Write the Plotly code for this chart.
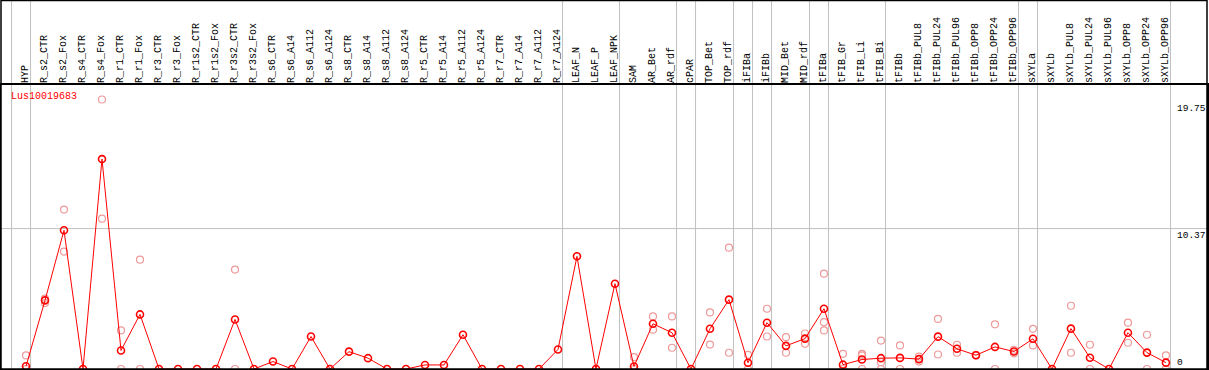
import plotly.graph_objects as go

categories = ["HYP", "R_s2_CTR", "R_s2_Fox", "R_s4_CTR", "R_s4_Fox", "R_r1_CTR", "R_r1_Fox",
              "R_r3_CTR", "R_r3_Fox", "R_r1s2_CTR", "R_r1s2_Fox", "R_r3s2_CTR", "R_r3s2_Fox",
              "R_s6_CTR", "R_s6_A14", "R_s6_A112", "R_s6_A124", "R_s8_CTR", "R_s8_A14",
              "R_s8_A112", "R_s8_A124", "R_r5_CTR", "R_r5_A14", "R_r5_A112", "R_r5_A124",
              "R_r7_CTR", "R_r7_A14", "R_r7_A112", "R_r7_A124", "LEAF_N", "LEAF_P", "LEAF_NPK",
              "SAM", "AR_Bet", "AR_rdf", "cPAR", "TOP_Bet", "TOP_rdf", "iFIBa", "iFIBb",
              "MID_Bet", "MID_rdf", "tFIBa", "tFIB_Gr", "tFIB_Li", "tFIB_Bi", "tFIBb",
              "tFIBb_PUL8", "tFIBb_PUL24", "tFIBb_PUL96", "tFIBb_OPP8", "tFIBb_OPP24",
              "tFIBb_OPP96", "sXYLa", "sXYLb", "sXYLb_PUL8", "sXYLb_PUL24", "sXYLb_PUL96",
              "sXYLb_OPP8", "sXYLb_OPP24", "sXYLb_OPP96"]

mean_values = [0.2, 5.07, 10.24, 0, 15.5, 1.37, 4.03,
               0, 0, 0, 0, 3.66, 0,
               0.55, 0, 2.4, 0, 1.28, 0.8,
               0, 0, 0.3, 0.3, 2.53, 0,
               0, 0, 0, 1.44, 8.32, 0, 6.3,
               0.19, 3.34, 2.68, 0, 2.97, 5.12, 0.46, 3.42,
               1.71, 2.24, 4.45, 0.32, 0.7, 0.8, 0.82,
               0.73, 2.39, 1.49, 1.02, 1.63,
               1.29, 2.23, 0, 2.98, 0.83, 0,
               2.68, 1.21, 0.47]

# individual replicates (category, value)
rep_category = ["HYP", "HYP", "R_s2_CTR", "R_s2_CTR", "R_s2_Fox", "R_s2_Fox", "R_s4_Fox", "R_s4_Fox",
                "R_r1_CTR", "R_r1_CTR", "R_r1_Fox", "R_r1_Fox", "R_r3s2_CTR", "R_r3s2_CTR",
                "SAM", "SAM", "AR_Bet", "AR_Bet", "AR_rdf", "AR_rdf", "TOP_Bet", "TOP_Bet",
                "TOP_rdf", "TOP_rdf", "iFIBa", "iFIBa", "iFIBb", "iFIBb", "MID_Bet", "MID_Bet",
                "MID_rdf", "MID_rdf", "tFIBa", "tFIBa", "tFIBa", "tFIB_Gr", "tFIB_Gr",
                "tFIB_Li", "tFIB_Li", "tFIB_Li", "tFIB_Bi", "tFIB_Bi", "tFIB_Bi",
                "tFIBb", "tFIBb", "tFIBb_PUL8", "tFIBb_PUL8", "tFIBb_PUL24", "tFIBb_PUL24",
                "tFIBb_PUL96", "tFIBb_PUL96", "tFIBb_OPP8", "tFIBb_OPP8", "tFIBb_OPP24", "tFIBb_OPP24",
                "tFIBb_OPP96", "tFIBb_OPP96", "sXYLa", "sXYLa", "sXYLb_PUL8", "sXYLb_PUL8",
                "sXYLb_PUL24", "sXYLb_PUL24", "sXYLb_OPP8", "sXYLb_OPP8", "sXYLb_OPP24", "sXYLb_OPP24",
                "sXYLb_OPP96", "sXYLb_OPP96"]
rep_values = [1.0, 0, 5.19, 4.87, 11.77, 8.67, 19.9, 11.1,
              2.85, 0, 8.07, 0, 7.34, 0,
              0.87, 0, 3.88, 2.9, 3.88, 1.57, 4.18, 1.8,
              8.96, 1.2, 1.05, 0, 4.45, 2.4, 2.35, 1.2,
              2.62, 1.86, 7.04, 3.46, 2.85, 1.12, 0,
              1.12, 1.0, 0, 2.1, 0.5, 0,
              1.74, 0, 0.92, 0.55, 3.7, 1.07,
              1.79, 1.2, 1.05, 1.0, 3.3, 0,
              1.42, 1.16, 2.97, 1.74, 4.67, 1.2,
              1.79, 0, 3.42, 1.94, 2.53, 0,
              1.0, 0]

# groups end after these categories (separator lines)
group_ends = ["HYP", "R_r7_A124", "LEAF_NPK", "AR_rdf", "cPAR", "TOP_rdf", "iFIBa", "iFIBb",
              "MID_rdf", "tFIBa", "tFIB_Bi", "tFIBb_OPP96", "sXYLa", "sXYLb_OPP96"]

y_tick_vals = [0, 10.37, 19.75]
y_tick_text = ["0", "10.37", "19.75"]
gene_name = "Lus10019683"

RED = "#ff0000"
PALE = "#ef9a9a"
GRID = "#c0c0c0"
FONT = "Liberation Mono"

idx = {c: i for i, c in enumerate(categories)}
xs = list(range(len(categories)))

fig = go.Figure()
fig.add_trace(go.Scatter(
    x=[idx[c] for c in rep_category], y=rep_values, mode="markers",
    marker=dict(symbol="circle-open", size=7, color=PALE, line=dict(width=1.2, color=PALE)),
    hoverinfo="skip", showlegend=False))
fig.add_trace(go.Scatter(
    x=xs, y=mean_values, mode="lines+markers",
    line=dict(color=RED, width=1),
    marker=dict(symbol="circle-open", size=7, color=RED, line=dict(width=1.6, color=RED)),
    showlegend=False))

shapes = []
# separator lines (extend into the header)
for c in ["__start__"] + group_ends:
    xi = (idx[c] if c in idx else -1) + 0.24
    shapes.append(dict(type="line", xref="x", yref="paper", x0=xi, x1=xi, y0=0, y1=1.31,
                       line=dict(color=GRID, width=1), layer="below"))
# horizontal grid at middle tick
shapes.append(dict(type="line", xref="paper", yref="y", x0=0, x1=1, y0=y_tick_vals[1], y1=y_tick_vals[1],
                   line=dict(color=GRID, width=1), layer="below"))
# outer frame of the header
shapes.append(dict(type="rect", xref="paper", yref="paper", x0=0, x1=1, y0=0, y1=1.2975,
                   line=dict(color="black", width=1.5), layer="above"))

annotations = []
for i, c in enumerate(categories):
    annotations.append(dict(x=i, y=1, xref="x", yref="paper", text=c, textangle=-90,
                            showarrow=False, xanchor="center", yanchor="bottom", yshift=0, xshift=-1,
                            font=dict(family=FONT, size=10, color="black")))
for v, t in zip(y_tick_vals, y_tick_text):
    annotations.append(dict(x=0.9765, y=v, xref="paper", yref="y", text=t, showarrow=False,
                            xanchor="left", yanchor=("bottom" if v == 0 else "top"), xshift=-3,
                            borderpad=0,
                            font=dict(family=FONT, size=9.5, color="black")))
annotations.append(dict(x=0.0066, y=0.959, xref="paper", yref="paper", text=gene_name, showarrow=False,
                        xanchor="left", yanchor="middle", font=dict(family=FONT, size=10, color=RED)))

fig.update_layout(
    width=1209, height=370,
    margin=dict(l=1, r=2, t=85, b=1, pad=0),
    paper_bgcolor="white", plot_bgcolor="white",
    xaxis=dict(range=[-1.316, 62.16], showgrid=False, zeroline=False, showticklabels=False,
               ticks="", showline=True, mirror=True, linecolor="black", linewidth=1.5, fixedrange=True),
    yaxis=dict(range=[0, 20.97], showgrid=False, zeroline=False, showticklabels=False,
               ticks="", showline=True, mirror=True, linecolor="black", linewidth=1.5, fixedrange=True),
    shapes=shapes, annotations=annotations,
)

fig.write_html("out.html", config={"displayModeBar": False},
               post_script="document.body.style.margin='0';document.body.style.overflow='hidden';")
